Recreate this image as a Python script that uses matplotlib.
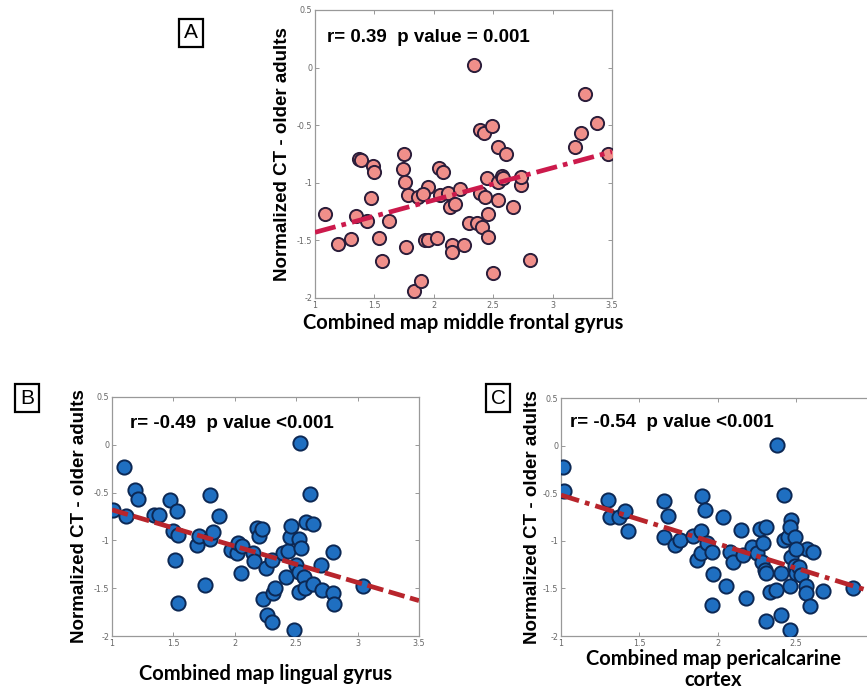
import numpy as np
import matplotlib.pyplot as plt

# panel A: middle frontal gyrus
xa = [1.08, 1.19, 1.30, 1.345, 1.37, 1.385, 1.44, 1.475, 1.49, 1.50, 1.54, 1.56, 1.62,
      1.74, 1.75, 1.76, 1.77, 1.78, 1.83, 1.87, 1.89, 1.93, 1.95, 1.955, 1.91, 2.03,
      2.04, 2.075, 2.05, 2.12, 2.14, 2.15, 2.155, 2.18, 2.22, 2.25, 2.30, 2.34, 2.36,
      2.385, 2.39, 2.405, 2.42, 2.43, 2.445, 2.46, 2.46, 2.49, 2.50, 2.54, 2.54, 2.54,
      2.57, 2.58, 2.61, 2.67, 2.73, 2.73, 2.81, 3.19, 3.24, 3.27, 3.37, 3.47]
ya = [-1.27, -1.53, -1.49, -1.29, -0.79, -0.80, -1.33, -1.13, -0.85, -0.91, -1.48, -1.68, -1.33,
      -0.88, -0.75, -0.99, -1.56, -1.11, -1.94, -1.12, -1.85, -1.50, -1.04, -1.50, -1.10, -1.48,
      -0.87, -0.91, -1.11, -1.09, -1.21, -1.54, -1.60, -1.18, -1.05, -1.54, -1.35, 0.02, -1.35,
      -1.09, -0.54, -1.38, -0.57, -1.12, -0.96, -1.27, -1.47, -0.51, -1.78, -0.99, -1.15, -0.69,
      -0.94, -0.96, -0.75, -1.21, -1.02, -0.95, -1.67, -0.69, -0.57, -0.23, -0.48, -0.75]
fit_a = ([1.0, 3.5], [-1.43, -0.73])

# panel B: lingual gyrus
xb = [1.01, 1.095, 1.11, 1.19, 1.21, 1.34, 1.38, 1.47, 1.53, 1.50, 1.54, 1.51, 1.54,
      1.69, 1.71, 1.76, 1.80, 1.80, 1.82, 1.87, 1.97, 2.02, 2.03, 2.05, 2.06, 2.15,
      2.16, 2.18, 2.20, 2.22, 2.25, 2.23, 2.26, 2.30, 2.30, 2.31, 2.33, 2.39, 2.42,
      2.43, 2.45, 2.46, 2.48, 2.50, 2.52, 2.52, 2.53, 2.52, 2.54, 2.56, 2.57, 2.58,
      2.61, 2.64, 2.64, 2.71, 2.70, 2.80, 2.81, 2.80, 3.04]
yb = [-0.68, -0.23, -0.74, -0.47, -0.57, -0.73, -0.73, -0.575, -0.69, -0.90, -0.94, -1.20, -1.66,
      -1.05, -0.95, -1.47, -0.53, -0.99, -0.91, -0.74, -1.10, -1.13, -1.03, -1.34, -1.06, -1.13,
      -1.22, -0.87, -0.95, -0.88, -1.29, -1.61, -1.78, -1.85, -1.20, -1.55, -1.50, -1.13, -1.38,
      -1.11, -0.96, -0.85, -1.94, -1.26, -1.33, -1.54, 0.02, -0.99, -1.08, -1.38, -1.50, -0.81,
      -0.51, -0.83, -1.46, -1.52, -1.26, -1.55, -1.67, -1.12, -1.48]
fit_b = ([1.0, 3.5], [-0.68, -1.63])

# panel C: pericalcarine cortex
xc = [1.01, 1.02, 1.30, 1.31, 1.37, 1.41, 1.43, 1.66, 1.68, 1.66, 1.73, 1.76, 1.84,
      1.87, 1.89, 1.90, 1.92, 1.89, 1.93, 1.96, 1.97, 1.96, 2.03, 2.05, 2.08, 2.10,
      2.15, 2.16, 2.18, 2.22, 2.25, 2.27, 2.28, 2.29, 2.30, 2.31, 2.31, 2.31, 2.33,
      2.37, 2.38, 2.40, 2.40, 2.42, 2.42, 2.45, 2.46, 2.46, 2.47, 2.46, 2.49, 2.47,
      2.49, 2.50, 2.52, 2.53, 2.57, 2.56, 2.56, 2.59, 2.61, 2.67, 2.86, 2.50]
yc = [-0.23, -0.475, -0.57, -0.745, -0.745, -0.69, -0.90, -0.58, -0.74, -0.96, -1.04, -0.99, -0.95,
      -1.20, -0.90, -0.53, -0.68, -1.13, -1.02, -1.12, -1.35, -1.67, -0.75, -1.47, -1.12, -1.22,
      -0.89, -1.15, -1.60, -1.06, -1.13, -0.88, -1.22, -1.02, -1.31, -1.34, -0.85, -1.84, -1.54,
      -1.52, 0.01, -1.34, -1.78, -0.52, -0.99, -0.96, -1.48, -1.94, -0.78, -0.85, -0.96, -1.17,
      -1.26, -1.34, -1.27, -1.36, -1.09, -1.48, -1.55, -1.68, -1.12, -1.53, -1.50, -1.09]
fit_c = ([1.0, 3.5], [-0.52, -1.80])

xticks = [1, 1.5, 2, 2.5, 3, 3.5]
yticks = [-2, -1.5, -1, -0.5, 0, 0.5]

W, H = 867, 693
fig = plt.figure(figsize=(W / 100, H / 100), dpi=100)


def make_axes(x0, y0, x1, y1):
    # pixel box (top-left origin) -> figure fraction
    return fig.add_axes([x0 / W, 1 - y1 / H, (x1 - x0) / W, (y1 - y0) / H])


def style(ax, xt=xticks):
    ax.set_xlim(1, 3.5)
    ax.set_ylim(-2, 0.5)
    ax.set_xticks(xt)
    ax.set_yticks(yticks)
    ax.set_xticklabels([f'{t:g}' for t in xt])
    ax.set_yticklabels([f'{t:g}' for t in yticks])
    ax.tick_params(direction='in', top=True, right=True, length=3, width=0.6,
                   labelsize=5.8, labelcolor='#666666', color='#888888', pad=2)
    for s in ax.spines.values():
        s.set_color('#999999')
        s.set_linewidth(0.9)


label_font = dict(family='Liberation Sans', weight='bold', fontsize=13.5)
xlab_font = dict(family='Lato', weight='bold', fontsize=14.5)
stat_font = dict(family='Liberation Sans', weight='bold', fontsize=13.5)

# A
ax = make_axes(315, 10, 612, 298)
style(ax)
ax.scatter(xa, ya, s=90, c='#f08f8a', edgecolors='#2b1d3a', linewidths=1.4, zorder=3)
ax.plot(*fit_a, color='#cc1a4c', lw=3.4, dashes=(4.5, 1.3, 1, 1.3), zorder=4)
ax.text(0.04, 0.905, 'r= 0.39  p value = 0.001', transform=ax.transAxes,
        va='center', ha='left', **stat_font)
ax.set_ylabel('Normalized CT - older adults', labelpad=4, **label_font)
ax.set_xlabel('Combined map middle frontal gyrus', labelpad=2, **xlab_font)

# B
ax = make_axes(112, 397, 419, 636)
style(ax)
ax.scatter(xb, yb, s=105, c='#1f6fc1', edgecolors='#0c2854', linewidths=1.4, zorder=3)
ax.plot(*fit_b, color='#b8252c', lw=3.4, dashes=(3.5, 1.2), zorder=4)
ax.text(0.059, 0.89, 'r= -0.49  p value <0.001', transform=ax.transAxes,
        va='center', ha='left', **stat_font)
ax.set_ylabel('Normalized CT - older adults', labelpad=4, **label_font)
ax.set_xlabel('Combined map lingual gyrus', labelpad=12, **xlab_font)

# C (runs past the right edge of the figure)
ax = make_axes(561, 398, 561 + 392, 636)
style(ax, xt=[1, 1.5, 2, 2.5])
ax.scatter(xc, yc, s=105, c='#1f6fc1', edgecolors='#0c2854', linewidths=1.4, zorder=3)
ax.plot(*fit_c, color='#b8252c', lw=3.4, dashes=(4, 1.3, 1, 1.3), zorder=4)
ax.text(1.057, 0.24, 'r= -0.54  p value <0.001', va='center', ha='left', **stat_font)
ax.set_ylabel('Normalized CT - older adults', labelpad=1, **label_font)
ax.text(0.388, -0.055, 'Combined map pericalcarine\ncortex', transform=ax.transAxes,
        ha='center', va='top', linespacing=1.05, **xlab_font)

# panel letters
box = dict(boxstyle='square,pad=0.22', fc='white', ec='black', lw=1.6)
for lx, ly, lt in [(191, 33, 'A'), (27, 398, 'B'), (498, 398, 'C')]:
    fig.text(lx / W, 1 - ly / H, lt, ha='center', va='center', fontsize=15,
             family='Liberation Sans', bbox=box)

fig.savefig('out.png', dpi=100)
